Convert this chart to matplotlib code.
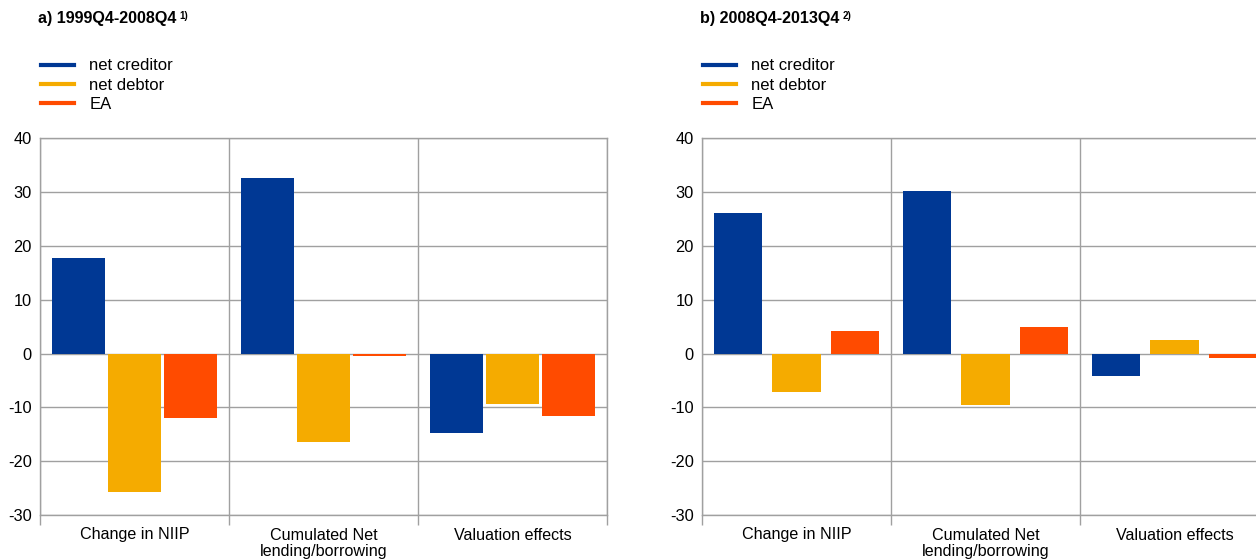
import matplotlib
matplotlib.use("Agg")
import matplotlib.pyplot as plt
from matplotlib.lines import Line2D
import numpy as np

plt.rcParams['font.family'] = ['Liberation Sans', 'DejaVu Sans']
plt.rcParams['axes.unicode_minus'] = False

categories = ["Change in NIIP", "Cumulated Net\nlending/borrowing", "Valuation effects"]
series_names = ["net creditor", "net debtor", "EA"]
colors = ["#003894", "#F5AB00", "#FF4B00"]

# Panel a) 1999Q4-2008Q4
a_creditor = [17.8, 32.6, -14.8]
a_debtor = [-25.8, -16.5, -9.4]
a_ea = [-12.0, -0.4, -11.6]

# Panel b) 2008Q4-2013Q4
b_creditor = [26.2, 30.2, -4.1]
b_debtor = [-7.1, -9.5, 2.6]
b_ea = [4.1, 4.9, -0.8]

titles = ["a) 1999Q4-2008Q4", "b) 2008Q4-2013Q4"]
notes = ["1)", "2)"]
yticks = [-30, -20, -10, 0, 10, 20, 30, 40]

grid_col = "#a0a0a0"

fig = plt.figure(figsize=(12.56, 5.59), dpi=100)

panels = [
    dict(data=[a_creditor, a_debtor, a_ea], left=40, width_bar=0.28, step=0.296),
    dict(data=[b_creditor, b_debtor, b_ea], left=702, width_bar=0.254, step=0.312),
]

W, H = 1256, 559
ax_w_px = 567
top_px, bot_px = 138.3, 515.0

for i, p in enumerate(panels):
    ax = fig.add_axes([p["left"] / W, 1 - bot_px / H, ax_w_px / W, (bot_px - top_px) / H])
    x = np.arange(len(categories)) + 0.5
    for k, (vals, col) in enumerate(zip(p["data"], colors)):
        ax.bar(x + (k - 1) * p["step"], vals, width=p["width_bar"], color=col,
               zorder=3, linewidth=0)
    ax.set_xlim(0, 3)
    ax.set_ylim(-30, 40)
    ax.set_yticks(yticks)
    ax.set_yticklabels([str(v) for v in yticks], fontsize=11.8)
    ax.tick_params(axis='y', length=0, pad=6, colors='black')
    ax.yaxis.grid(True, color=grid_col, linewidth=1.0, zorder=0)
    # boundaries: major ticks; labels on minor ticks at centers
    ax.set_xticks([0, 1, 2, 3])
    ax.set_xticklabels([])
    ax.set_xticks(x, minor=True)
    ax.set_xticklabels(categories, minor=True, fontsize=11.6, linespacing=1.12)
    ax.tick_params(axis='x', which='major', length=7, width=1.0, color=grid_col, direction='out')
    ax.tick_params(axis='x', which='minor', length=0, pad=9)
    ax.xaxis.grid(True, which='major', color=grid_col, linewidth=1.0, zorder=0)
    for s in ax.spines.values():
        s.set_color(grid_col)
        s.set_linewidth(1.0)
    ax.set_axisbelow(True)

    t = fig.text((p["left"] - 2) / W, 1 - 18 / H, titles[i], fontsize=11.6, fontweight='bold',
                 ha='left', va='center')
    ax.annotate(notes[i], xy=(1, 1), xycoords=t, xytext=(2, -0.5), textcoords='offset points',
                fontsize=7, fontweight='bold', ha='left', va='top', annotation_clip=False)

    handles = [Line2D([], [], color=c, linewidth=3) for c in colors]
    fig.legend(handles, series_names, loc='upper left',
               bbox_to_anchor=((p["left"] + 1) / W, 1 - 58.5 / H),
               frameon=False, fontsize=12, handlelength=2.0, handletextpad=0.9,
               labelspacing=0.26, borderpad=0, borderaxespad=0)

fig.savefig("out.png", dpi=100)
